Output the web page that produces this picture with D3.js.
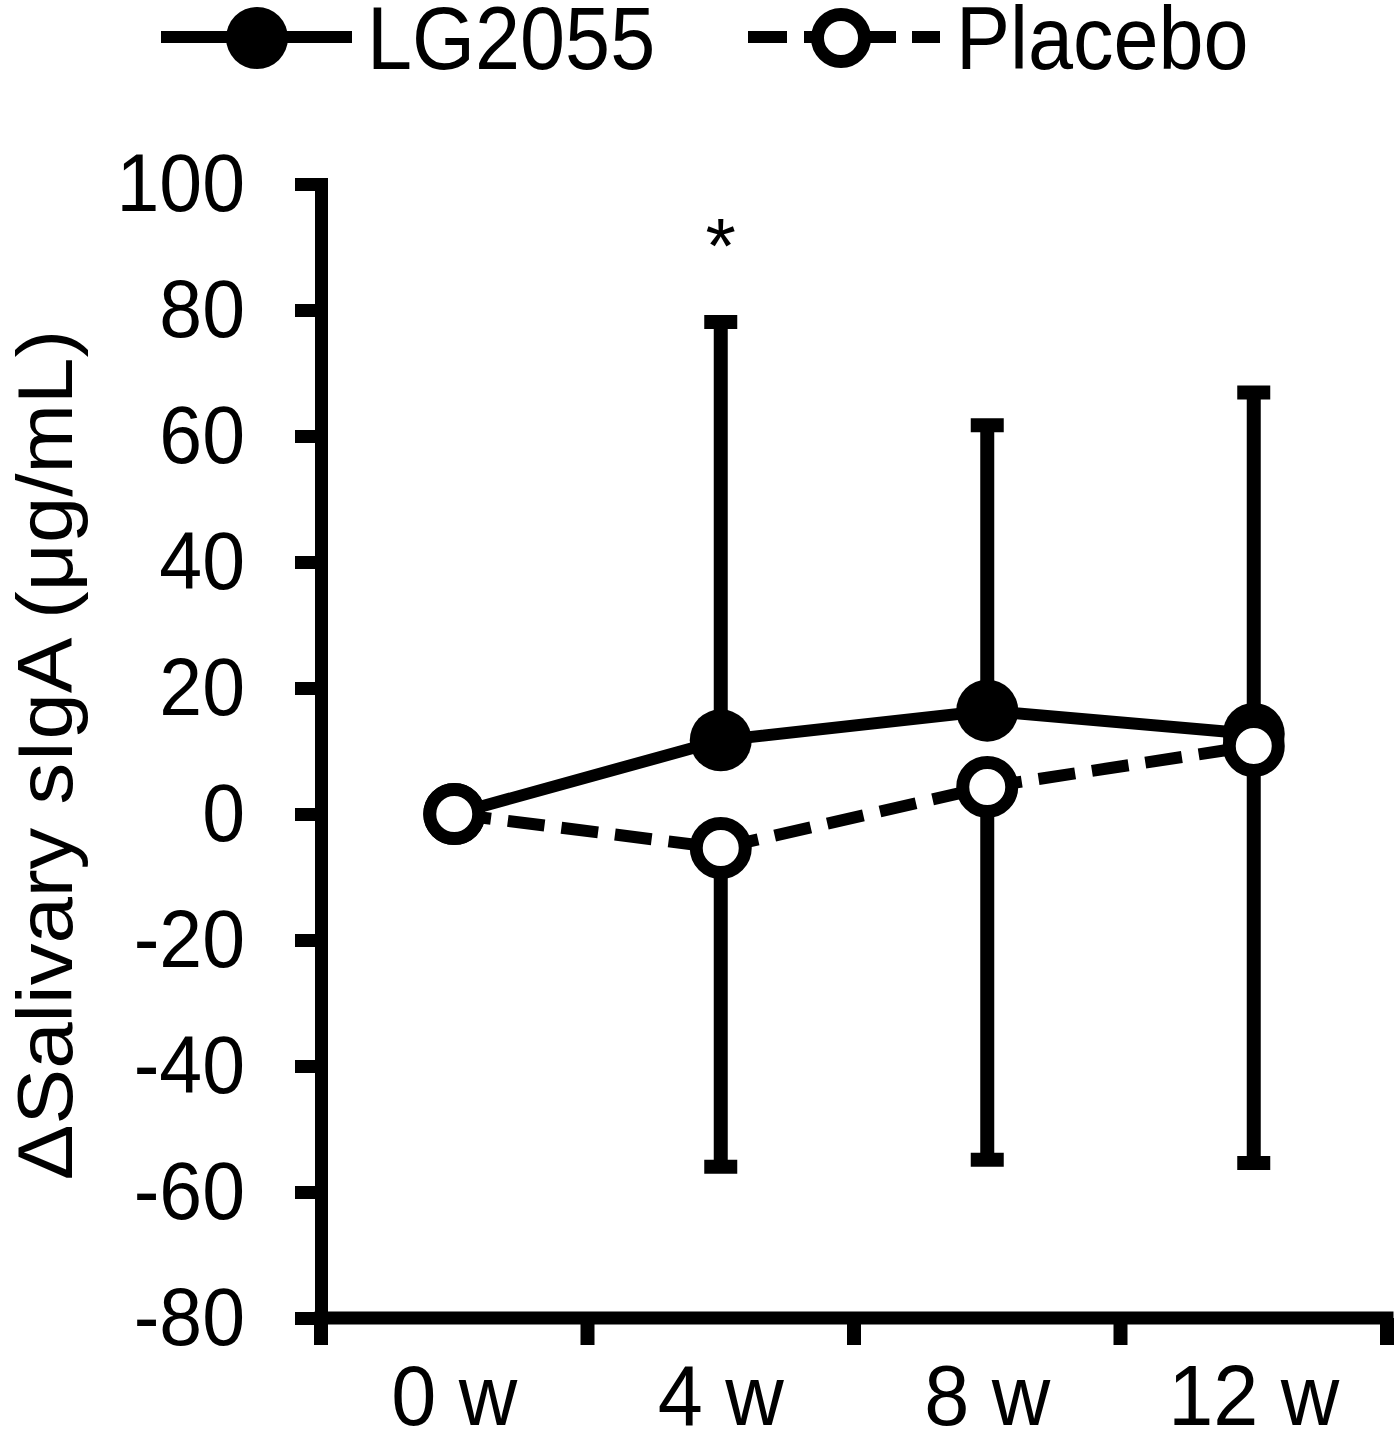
<!DOCTYPE html>
<html>
<head>
<meta charset="utf-8">
<script src="https://cdn.jsdelivr.net/npm/d3@7"></script>
<style>
body { margin: 0; background: #fff; }
text { font-family: "Liberation Sans", Arial, sans-serif; fill: #000; }
</style>
</head>
<body>
<div id="vis"></div>
<script>
const weeks = ["0 w", "4 w", "8 w", "12 w"];
const lgMean = [0, 11.7, 16.4, 12.7];
const lgSD = [0, 66.4, 45.3, 54.2];
const placeboMean = [0, -5.4, 4.3, 10.8];
const placeboSD = [0, 50.6, 59.2, 66.2];
const yTicks = [-80, -60, -40, -20, 0, 20, 40, 60, 80, 100];
const signif = ["", "*", "", ""];

const FRAME_WIDTH = 1400;
const FRAME_HEIGHT = 1434;
const MARGINS = {left: 321, right: 13, top: 184, bottom: 116};
const STROKE = 13;

const svg = d3.select('#vis')
  .append('svg')
  .attr('width', FRAME_WIDTH)
  .attr('height', FRAME_HEIGHT);

const X_SCALE = d3.scaleBand()
  .domain(weeks)
  .range([MARGINS.left, FRAME_WIDTH - MARGINS.right]);

const Y_SCALE = d3.scaleLinear()
  .domain([-80, 100])
  .range([FRAME_HEIGHT - MARGINS.bottom, MARGINS.top]);

const cx = (d) => X_SCALE(d) + X_SCALE.bandwidth() / 2;

// y axis (plain hyphen for negatives, as in the original)
const yAxis = svg.append('g')
  .attr('transform', 'translate(' + MARGINS.left + ',0)')
  .call(d3.axisLeft(Y_SCALE)
    .tickValues(yTicks)
    .tickFormat((d) => String(d))
    .tickSize(26).tickSizeOuter(0).tickPadding(50));
yAxis.select('.domain')
  .attr('stroke-width', STROKE)
  .attr('stroke-linecap', 'square');
yAxis.selectAll('.tick line').attr('stroke-width', STROKE);
yAxis.selectAll('.tick text')
  .attr('font-size', 77)
  .attr('font-family', '"Liberation Sans", Arial, sans-serif')
  .attr('transform', 'scale(1,1.07)');

// x axis with ticks at category boundaries
const yBase = Y_SCALE(-80);
const xEdges = weeks.map((w) => X_SCALE(w)).concat([X_SCALE.range()[1]]);
svg.append('line')
  .attr('x1', X_SCALE.range()[0] - STROKE / 2)
  .attr('x2', X_SCALE.range()[1] + STROKE / 2)
  .attr('y1', yBase).attr('y2', yBase)
  .attr('stroke', '#000').attr('stroke-width', STROKE);
svg.selectAll('.xtick')
  .data(xEdges)
  .enter()
  .append('line')
    .attr('class', 'xtick')
    .attr('x1', (d) => d).attr('x2', (d) => d)
    .attr('y1', yBase).attr('y2', yBase + 27)
    .attr('stroke', '#000').attr('stroke-width', STROKE + 1);
svg.selectAll('.xlabel')
  .data(weeks)
  .enter()
  .append('text')
    .attr('class', 'xlabel')
    .attr('text-anchor', 'middle')
    .attr('font-size', 81)
    .attr('transform', (d) => 'translate(' + cx(d) + ',1425) scale(1,1.06)')
    .text((d) => d);

// y axis title
svg.append('text')
  .attr('text-anchor', 'middle')
  .attr('font-size', 78)
  .attr('transform', 'translate(72,755) rotate(-90) scale(1.07,1)')
  .text('ΔSalivary sIgA (μg/mL)');

// error bars: LG2055 upward, Placebo downward
function errorBars(means, sds, sign, cls) {
  const rows = weeks.map((w, i) => ({w: w, m: means[i], e: means[i] + sign * sds[i]}))
    .filter((d) => d.e !== d.m);
  svg.selectAll('.stem-' + cls)
    .data(rows)
    .enter()
    .append('line')
      .attr('x1', (d) => cx(d.w)).attr('x2', (d) => cx(d.w))
      .attr('y1', (d) => Y_SCALE(d.m)).attr('y2', (d) => Y_SCALE(d.e))
      .attr('stroke', '#000').attr('stroke-width', 14);
  svg.selectAll('.cap-' + cls)
    .data(rows)
    .enter()
    .append('line')
      .attr('x1', (d) => cx(d.w) - 16.5).attr('x2', (d) => cx(d.w) + 16.5)
      .attr('y1', (d) => Y_SCALE(d.e)).attr('y2', (d) => Y_SCALE(d.e))
      .attr('stroke', '#000').attr('stroke-width', 14);
}
errorBars(lgMean, lgSD, 1, 'lg');
errorBars(placeboMean, placeboSD, -1, 'pl');

// significance marks
svg.selectAll('.sig')
  .data(weeks.map((w, i) => ({w: w, s: signif[i]})).filter((d) => d.s))
  .enter()
  .append('text')
    .attr('text-anchor', 'middle')
    .attr('font-size', 78)
    .attr('x', (d) => cx(d.w))
    .attr('y', 273)
    .text((d) => d.s);

// lines
const line = d3.line().x((d) => cx(d.w)).y((d) => Y_SCALE(d.v));
const lgData = weeks.map((w, i) => ({w: w, v: lgMean[i]}));
const plData = weeks.map((w, i) => ({w: w, v: placeboMean[i]}));

svg.append('path')
  .datum(lgData)
  .attr('d', line)
  .attr('fill', 'none').attr('stroke', '#000').attr('stroke-width', 12);
svg.append('path')
  .datum(plData)
  .attr('d', line)
  .attr('fill', 'none').attr('stroke', '#000').attr('stroke-width', 12)
  .attr('stroke-dasharray', '37,17');

svg.selectAll('.lgpt')
  .data(lgData)
  .enter()
  .append('circle')
    .attr('cx', (d) => cx(d.w)).attr('cy', (d) => Y_SCALE(d.v))
    .attr('r', 31).attr('fill', '#000');
svg.selectAll('.plpt')
  .data(plData)
  .enter()
  .append('circle')
    .attr('cx', (d) => cx(d.w)).attr('cy', (d) => Y_SCALE(d.v))
    .attr('r', 24.5).attr('fill', '#fff')
    .attr('stroke', '#000').attr('stroke-width', 13);

// legend
const legend = svg.append('g');
legend.append('line')
  .attr('x1', 161).attr('x2', 352).attr('y1', 37).attr('y2', 37)
  .attr('stroke', '#000').attr('stroke-width', 12);
legend.append('circle')
  .attr('cx', 257).attr('cy', 38).attr('r', 31).attr('fill', '#000');
legend.append('text')
  .attr('font-size', 81)
  .attr('transform', 'translate(367,69) scale(1,1.1)')
  .text('LG2055');
legend.append('line')
  .attr('x1', 748).attr('x2', 940).attr('y1', 37).attr('y2', 37)
  .attr('stroke', '#000').attr('stroke-width', 12)
  .attr('stroke-dasharray', '39,17,92,16,30');
legend.append('circle')
  .attr('cx', 841).attr('cy', 38).attr('r', 23.5)
  .attr('fill', '#fff').attr('stroke', '#000').attr('stroke-width', 13);
legend.append('text')
  .attr('font-size', 81)
  .attr('transform', 'translate(956,69) scale(1,1.1)')
  .text('Placebo');
</script>
</body>
</html>
